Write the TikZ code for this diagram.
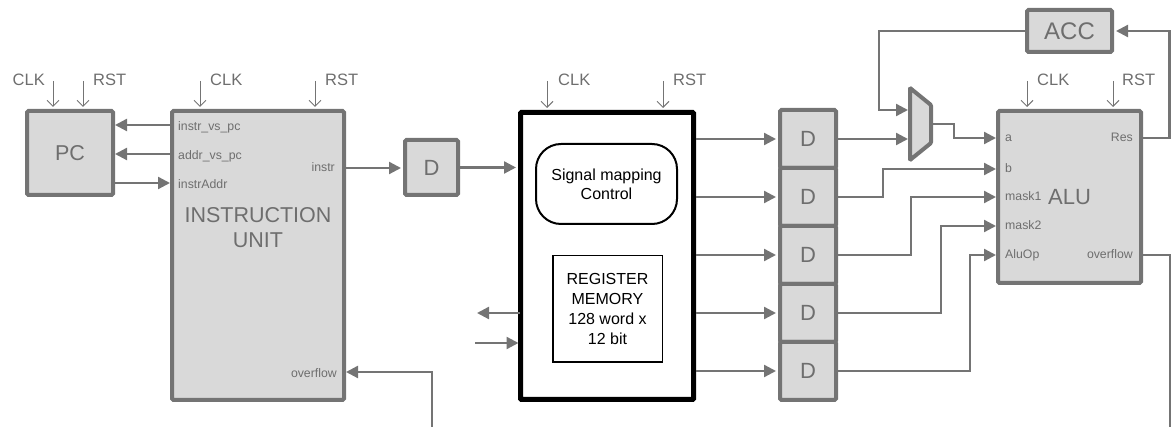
\documentclass[tikz,border=0pt]{standalone}
\usepackage{fontspec}
\setmainfont{Liberation Sans}
\usetikzlibrary{arrows.meta,calc}
\definecolor{lg}{HTML}{747474}
\definecolor{fillg}{HTML}{D9D9D9}
\definecolor{txtg}{HTML}{6E6E6E}
\begin{document}
\begin{tikzpicture}[x=1pt,y=-1pt,
 blk/.style={draw=lg, line width=4pt, fill=fillg, rounded corners=1.5pt, inner sep=0pt, text=txtg},
 wire/.style={draw=lg, line width=2.3pt, shorten >=2pt, -{Triangle[length=12pt,width=12pt]}},
 plain/.style={draw=lg, line width=2.3pt},
 ctl/.style={draw=lg, line width=1pt, shorten >=2pt, -{Straight Barb[length=6pt,width=12pt]}},
 ctltxt/.style={text=txtg, font=\fontsize{16.5}{18}\selectfont, inner sep=0pt},
 port/.style={text=txtg, font=\fontsize{12.3}{14}\selectfont, inner sep=0pt},
 big/.style={font=\fontsize{21.5}{25}\selectfont},
]
\useasboundingbox (0,0) rectangle (1171,427);

% ---- blocks ----
\node[blk, big, minimum width=86pt, minimum height=84pt] (pc) at (70,153) {PC};
\node[blk, minimum width=172pt, minimum height=289pt] (iu) at (258,255.5) {};
\node[text=txtg, big, align=center, inner sep=0pt] (iutext) at (258,227.5) {INSTRUCTION\\UNIT};
\node[blk, font=\fontsize{22}{25}\selectfont, minimum width=53pt, minimum height=55pt] (d1) at (431.5,167.5) {D};

\node[draw=black, line width=5pt, fill=white, rounded corners=1pt, minimum width=173pt, minimum height=287pt, inner sep=0pt] (cu) at (607,256) {};
\node[draw=black, line width=2pt, rounded corners=25pt, minimum width=141pt, minimum height=80pt, align=center, font=\fontsize{16}{19}\selectfont, inner sep=0pt] (sig) at (606.5,184) {Signal mapping\\Control};
\node[draw=black, line width=1.5pt, minimum width=109.5pt, minimum height=106.5pt, align=center, font=\fontsize{16}{19.7}\selectfont, inner sep=0pt] (reg) at (607.5,309) {REGISTER\\MEMORY\\128 word x\\12 bit};

\foreach \i/\y in {1/139,2/197,3/255,4/313,5/371}{
  \node[blk, font=\fontsize{22}{25}\selectfont, minimum width=56pt, minimum height=58pt] (dd\i) at (808,\y) {D};
}

\node[blk, font=\fontsize{22}{25}\selectfont, minimum width=143pt, minimum height=172pt] (alu) at (1069.5,197) {ALU};
\node[blk, font=\fontsize{24}{26}\selectfont, minimum width=85pt, minimum height=42pt] (acc) at (1069.5,31) {ACC};

% mux
\draw[draw=lg, fill=fillg, line width=4pt, rounded corners=1pt] (910,88) -- (931,105) -- (931,143) -- (910,160) -- cycle;
\coordinate (mux-in1) at (910,110);
\coordinate (mux-in2) at (910,139);
\coordinate (mux-out) at (931,124);

% ---- port labels ----
\node[port, anchor=base west] (l-ivp) at (178,131) {instr\_vs\_pc};
\node[port, anchor=base west] (l-avp) at (178,160) {addr\_vs\_pc};
\node[port, anchor=base west] (l-ia) at (178,189) {instrAddr};
\node[port, anchor=base east] (l-instr) at (335,172) {instr};
\node[port, anchor=base east] (l-iuovf) at (337,377.5) {overflow};

\node[port, anchor=base west] (l-a) at (1005,142) {a};
\node[port, anchor=base west] (l-b) at (1005,173) {b};
\node[port, anchor=base west] (l-m1) at (1005,200.5) {mask1};
\node[port, anchor=base west] (l-m2) at (1005,229.5) {mask2};
\node[port, anchor=base west] (l-op) at (1005,258.5) {AluOp};
\node[port, anchor=base east] (l-res) at (1133,142) {Res};
\node[port, anchor=base east] (l-ovf) at (1133,258.5) {overflow};

% ---- CLK / RST ----
\node[ctltxt, anchor=base east] (pcclk) at (45,86) {CLK};
\node[ctltxt, anchor=base west] (pcrst) at (93,86) {RST};
\node[ctltxt, anchor=base west] (iuclk) at (210,86) {CLK};
\node[ctltxt, anchor=base west] (iurst) at (325,86) {RST};
\node[ctltxt, anchor=base west] (cuclk) at (558,86) {CLK};
\node[ctltxt, anchor=base west] (curst) at (673,86) {RST};
\node[ctltxt, anchor=base west] (aluclk) at (1037,86) {CLK};
\node[ctltxt, anchor=base west] (alurst) at (1122,86) {RST};

\foreach \n/\x/\b in {pcc/53/pc, pcr/83/pc, iuc/200/iu, iur/315/iu, cuc/547/cu, cur/663/cu, aluc/1027/alu, alur/1113/alu}{
  \coordinate (\n) at (\x,81);
  \draw[ctl] (\n) -- (\n |- \b.north);
}

% ---- wires PC / IU ----
\coordinate (iu-ivp) at (172,125); \coordinate (pc-ivp) at (113,125);
\coordinate (iu-avp) at (172,154); \coordinate (pc-avp) at (113,154);
\coordinate (pc-ia) at (113,183);  \coordinate (iu-ia) at (172,183);
\coordinate (iu-instr) at (344,168);
\coordinate (iu-ovf) at (344,372);
\coordinate (ovf-start) at (432,427);

\draw[wire] (iu-ivp) -- (pc-ivp);
\draw[wire] (iu-avp) -- (pc-avp);
\draw[wire] (pc-ia) -- (iu-ia);
\draw[wire] (iu-instr) -- (d1.west |- iu-instr);
\draw[wire] (ovf-start) |- (iu-ovf);

% ---- central ----
\draw[wire] (d1.east) -- (cu.west |- d1.east);
\coordinate (cu-o1) at (520,313); \coordinate (ext-o1) at (475,313);
\coordinate (ext-i1) at (475,343); \coordinate (cu-i1) at (520.5,343);
\draw[wire] (cu-o1) -- (ext-o1);
\draw[wire] (ext-i1) -- (cu-i1);
\foreach \i in {1,...,5}{
  \draw[wire] (cu.east |- dd\i.west) -- (dd\i.west);
}

% ---- ALU side ----
\coordinate (alu-a) at (998,138);
\coordinate (alu-b) at (998,169);
\coordinate (alu-m1) at (998,197);
\coordinate (alu-m2) at (998,226);
\coordinate (alu-op) at (998,255);
\coordinate (alu-res) at (1141,138);
\coordinate (alu-ovf) at (1141,255);
\coordinate (ovf-end) at (1170,427);
\coordinate (fb) at (879,110);

\draw[wire] (dd1.east) -- (mux-in2);
\draw[wire] (acc.west) -| (fb) -- (mux-in1);
\draw[wire] (mux-out) -- ++(23,0) |- (alu-a);
\draw[wire] (dd2.east) -- ++(45,0) |- (alu-b);
\draw[wire] (dd3.east) -- ++(73,0) |- (alu-m1);
\draw[wire] (dd4.east) -- ++(103,0) |- (alu-m2);
\draw[wire] (dd5.east) -- ++(132,0) |- (alu-op);
\draw[wire] (alu-res) -- ++(28.5,0) |- (acc.east);
\draw[plain] (alu-ovf) -| (ovf-end);
\end{tikzpicture}
\end{document}
